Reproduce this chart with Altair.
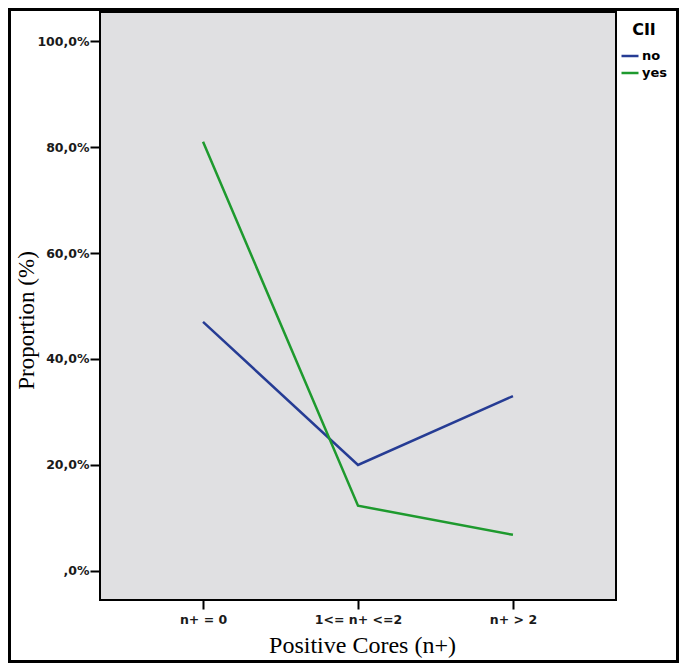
import altair as alt
import pandas as pd

categories = ["n+ = 0", "1<= n+ <=2", "n+ > 2"]
no_values = [47.0, 20.0, 33.0]
yes_values = [81.0, 12.3, 6.8]
groups = ["no", "yes"]
y_ticks = [0, 20, 40, 60, 80, 100]

rows = []
for c, v in zip(categories, no_values):
    rows.append({"cat": c, "val": v, "CII": "no"})
for c, v in zip(categories, yes_values):
    rows.append({"cat": c, "val": v, "CII": "yes"})
df = pd.DataFrame(rows)

W, H = 516, 588
PL, PT, PR, PB = 92, 4, 63, 63

lines = alt.Chart(df).mark_line(strokeWidth=2.5).encode(
    x=alt.X("cat:N", sort=categories,
            scale=alt.Scale(type="point", padding=0.665),
            axis=alt.Axis(title="Positive Cores (n+)", labelAngle=0,
                          labelFont="DejaVu Sans", labelFontWeight="bold",
                          labelFontSize=12.5, labelColor="#1a1a1a",
                          labelPadding=4, labelBaseline="top",
                          tickColor="black", tickWidth=2, tickSize=9,
                          domain=False, grid=False,
                          titleFont="Liberation Serif", titleFontSize=24,
                          titleFontWeight="normal", titleColor="black",
                          titleX=W / 2 + 4, titleY=45, titleBaseline="middle",
                          titleAnchor="start", titleAlign="center")),
    y=alt.Y("val:Q",
            scale=alt.Scale(domain=[-5.5, 105.5], nice=False, zero=False),
            axis=alt.Axis(title="Proportion (%)", values=y_ticks,
                          labelExpr="datum.value == 0 ? ',0%' : replace(format(datum.value, '.1f'), '.', ',') + '%'",
                          labelFont="DejaVu Sans", labelFontWeight="bold",
                          labelFontSize=12.5, labelColor="#1a1a1a",
                          labelPadding=1,
                          tickColor="black", tickWidth=2, tickSize=10,
                          domain=False, grid=False,
                          titleFont="Liberation Serif", titleFontSize=23,
                          titleFontWeight="normal", titleColor="black",
                          titleAngle=-90, titleX=-74, titleY=308,
                          titleBaseline="middle", titleAlign="center")),
    color=alt.Color("CII:N", sort=groups,
                    scale=alt.Scale(domain=groups, range=["#263c94", "#1e9a2e"]),
                    legend=alt.Legend(title="CII", orient="none",
                                      legendX=W + 4, legendY=10,
                                      symbolType="stroke", symbolSize=289,
                                      symbolStrokeWidth=2.5,
                                      titleFont="DejaVu Sans", titleFontSize=16,
                                      titleFontWeight="bold", titleColor="black",
                                      titleAnchor="middle", titlePadding=8,
                                      labelFont="DejaVu Sans", labelFontSize=13,
                                      labelFontWeight="bold", labelColor="black",
                                      labelOffset=2, rowPadding=0)),
)

frame = alt.Chart(alt.Data(values=[{}])).mark_rect(
    fill=None, stroke="black", strokeWidth=3, clip=False
).encode(
    x=alt.value(-PL + 1.5), x2=alt.value(W + PR - 1.5),
    y=alt.value(-PT + 1.5), y2=alt.value(H + PB - 1.5),
)

chart = alt.layer(lines, frame).properties(
    width=W, height=H,
    autosize=alt.AutoSizeParams(type="none"),
    padding={"left": PL, "top": PT, "right": PR, "bottom": PB},
    background="white",
).configure_view(
    fill="#e0e0e2", stroke="black", strokeWidth=2
)

chart.save("out.html", embed_options={"renderer": "svg", "actions": False})
